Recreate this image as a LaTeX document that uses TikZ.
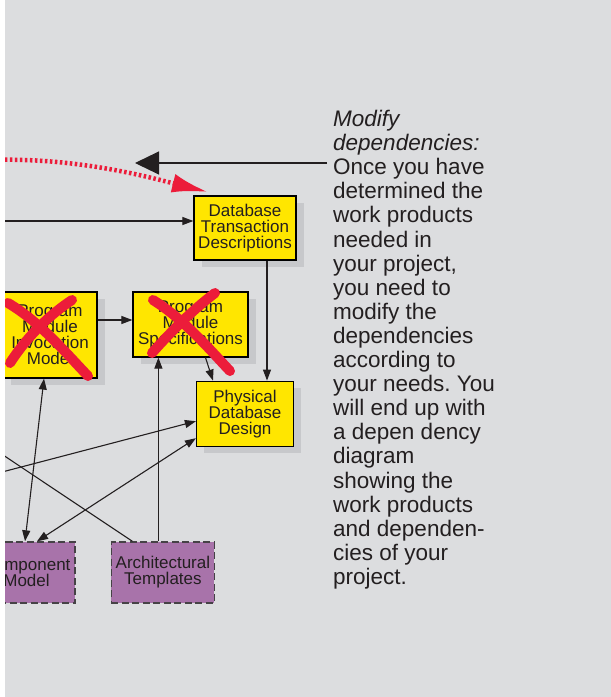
\documentclass[tikz,border=0pt]{standalone}
\usepackage{fontspec}
\setmainfont{Liberation Sans}
\usepackage{xcolor}
\usepackage{tikz}
\usetikzlibrary{arrows.meta,positioning,calc,shadows}
\definecolor{bggray}{RGB}{220,221,223}
\definecolor{shadowgray}{RGB}{199,200,203}
\definecolor{wpyellow}{RGB}{255,230,0}
\definecolor{archpurple}{RGB}{168,115,170}
\definecolor{dashgray}{RGB}{70,66,70}
\definecolor{xred}{RGB}{236,28,58}
\definecolor{ink}{RGB}{35,31,32}
\newcommand{\boxfont}{\fontsize{17pt}{16pt}\selectfont}
\newcommand{\notefont}{\fontsize{22.5pt}{24.1pt}\selectfont}
\frenchspacing

\begin{document}
\begin{tikzpicture}[x=1pt, y=-1pt, font=\boxfont, >={Triangle[length=11pt,width=8pt]}]
  \tikzset{wp/.style={draw=black, line width=1.2pt, fill=#1, text=ink,
                      align=center, inner sep=0pt,
                      drop shadow={shadow xshift=7.5pt, shadow yshift=-7pt,
                                   fill=shadowgray, opacity=1}},
           tmpl/.style={draw=dashgray, line width=1.4pt, dash pattern=on 7pt off 3.5pt,
                        fill=archpurple, text=ink, align=center, inner sep=0pt,
                        minimum height=61pt},
           conn/.style={draw=ink, line width=1.1pt},
           redline/.style={draw=xred, line width=4.5pt, dash pattern=on 2.5pt off 2.5pt},
           xmark/.style={draw=xred, line width=10pt, line cap=round}}
  \useasboundingbox (0,0) rectangle (611,697);
  \fill[white] (0,0) rectangle (611,697);
  \fill[bggray] (5,0) rectangle (611,697);

  \begin{scope}
    \clip (5,0) rectangle (611,697);
    \node[wp=wpyellow, minimum width=102pt, minimum height=64pt] (dbt) at (245,228)
         {Database\\Transaction\\Descriptions};
    \node[wp=wpyellow, minimum width=97pt, minimum height=65pt, below=120pt of dbt] (pdd)
         {Physical\\Database\\Design};
    \node[wp=wpyellow, minimum width=94pt, minimum height=86pt] (pmim) at (50,335)
         {Program\\Module\\Invocation\\Model};
    \node[wp=wpyellow, minimum width=115pt, minimum height=65pt] (pms) at (190.5,324.5)
         {Program\\Module\\Specifications};
    \node[tmpl, minimum width=97pt] (cm) at (26.5,572.5) {Component\\Model};
    \node[tmpl, minimum width=103pt, right=35pt of cm] (at) {Architectural\\Templates};

    \coordinate (offdbt) at (-30,221);
    \coordinate (offpdd) at (-30,480.4);
    \coordinate (offat)  at (-40,426.3);
    \coordinate (redstart) at (-40,162);
    \coordinate (redend)   at (208,192);

    \draw[conn,->] (offdbt) -- (offdbt -| dbt.west);
    \draw[conn,->] ([xshift=22pt]dbt.south) -- ([xshift=22pt]dbt.south |- pdd.north);
    \draw[conn,->] ([yshift=15pt]pmim.east) -- ([yshift=15pt]pmim.east -| pms.west);
    \draw[conn,->] ([xshift=15pt]pms.south) -- ([xshift=-32pt]pdd.north);
    \draw[conn,->] ([xshift=-4.5pt]at.north) -- ([xshift=-4.5pt]at.north |- pms.south);
    \draw[conn,<->] ([xshift=-6pt]pmim.south) -- ([xshift=-1.5pt]cm.north);
    \draw[conn,<->] ([xshift=10.5pt]cm.north) -- ([yshift=-24.5pt]pdd.west);
    \draw[conn,->] (offpdd) -- ([yshift=-7.5pt]pdd.west);
    \draw[conn,->] ([xshift=-30.5pt]at.north) -- (offat);

    \draw[redline, -{Latex[length=36pt,width=19pt]}]
      (redstart) .. controls (60,152) and (150,177.5) .. (redend);

    % the two crossed-out work products
    \draw[xmark] (8,303) .. controls (40,322) and (65,352) .. (88,376);
    \draw[xmark] (72,300) .. controls (45,318) and (25,340) .. (10,363);
    \draw[xmark] (153,300) .. controls (185,320) and (210,350) .. (230,371);
    \draw[xmark] (215,293) .. controls (190,312) and (168,335) .. (152,353);
  \end{scope}

  \node[anchor=north west, inner sep=0pt, font=\notefont, align=left, text=ink] (note)
       at (333,110)
       {\textit{Modify}\\\textit{dependencies:}\\Once you have\\determined the\\work products\\
        needed in\\your project,\\you need to\\modify the\\dependencies\\according to\\
        your needs. You\\will end up with\\a depen dency\\diagram\\showing the\\
        work products\\and dependen-\\cies of your\\project.};
  \coordinate (cnote) at (327,163);
  \coordinate (ctip)  at (135,163);
  \draw[conn, -{Triangle[length=24pt,width=23pt]}] (cnote) -- (ctip);
\end{tikzpicture}
\end{document}
